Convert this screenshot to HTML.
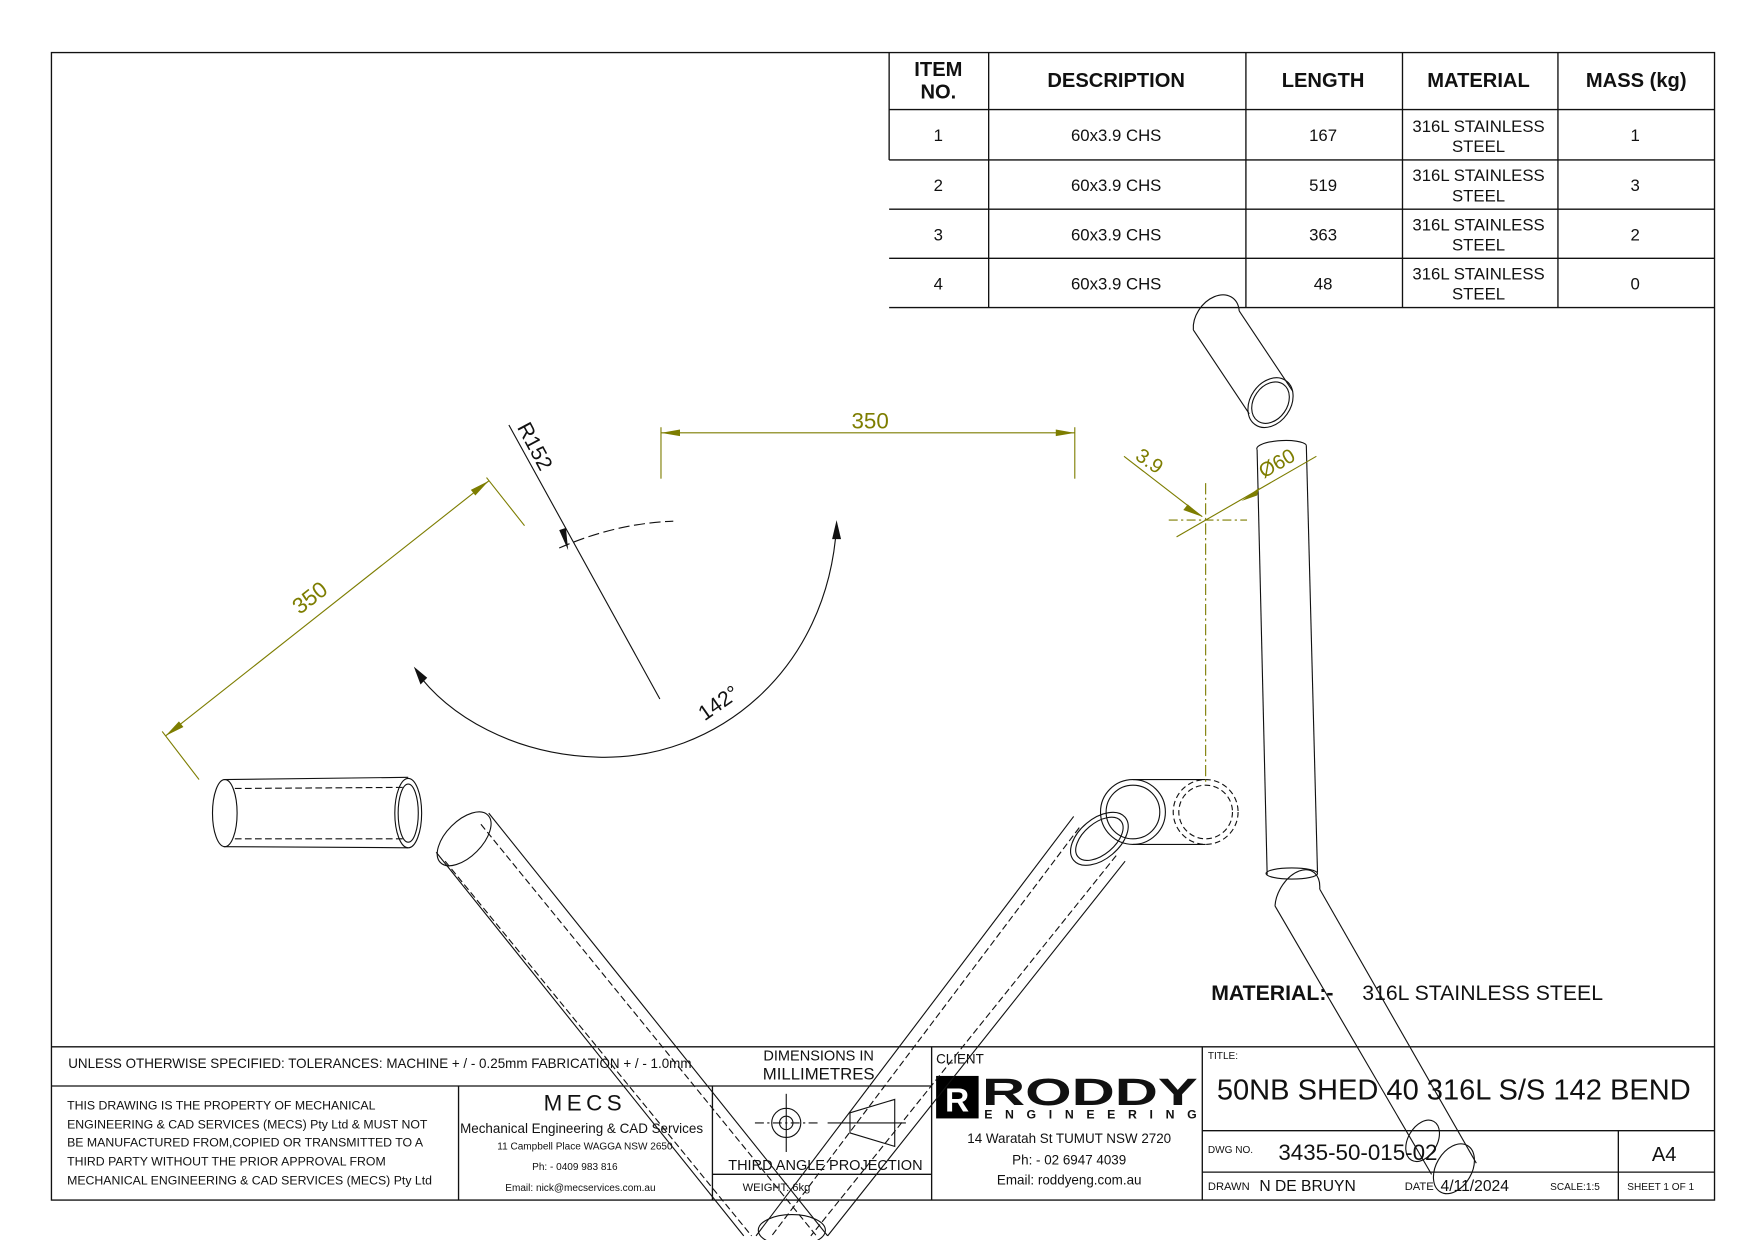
<!DOCTYPE html>
<html><head><meta charset="utf-8"><style>
html,body{margin:0;padding:0;background:#fff;width:1753px;height:1240px;overflow:hidden}
svg{display:block}
text{font-family:"Liberation Sans",sans-serif;fill:#111}
.b{font-weight:bold}
.d{fill:#7d7d00}
</style></head><body>
<svg width="1753" height="1240" viewBox="0 0 1567.4 1108.7" preserveAspectRatio="none">
<g fill="none" stroke="#111" stroke-width="1.2">
<rect x="46" y="47" width="1487" height="1026"/>
<line x1="795" y1="47" x2="795" y2="143"/>
<line x1="884" y1="47" x2="884" y2="275"/>
<line x1="1114" y1="47" x2="1114" y2="275"/>
<line x1="1254" y1="47" x2="1254" y2="275"/>
<line x1="1393" y1="47" x2="1393" y2="275"/>
<line x1="795" y1="98" x2="1533" y2="98"/>
<line x1="795" y1="143" x2="1533" y2="143"/>
<line x1="795" y1="187" x2="1533" y2="187"/>
<line x1="795" y1="231" x2="1533" y2="231"/>
<line x1="795" y1="275" x2="1533" y2="275"/>
<line x1="46" y1="936" x2="1533" y2="936"/>
<line x1="46" y1="971" x2="833" y2="971"/>
<line x1="410" y1="971" x2="410" y2="1073"/>
<line x1="637" y1="971" x2="637" y2="1073"/>
<line x1="833" y1="936" x2="833" y2="1073"/>
<line x1="1075" y1="936" x2="1075" y2="1073"/>
<line x1="637" y1="1050" x2="833" y2="1050"/>
<line x1="1075" y1="1011" x2="1533" y2="1011"/>
<line x1="1075" y1="1048" x2="1533" y2="1048"/>
<line x1="1447" y1="1011" x2="1447" y2="1073"/>
</g>
<g font-size="18" class="b">
<text x="839" y="68" text-anchor="middle" class="b">ITEM</text>
<text x="839" y="88" text-anchor="middle" class="b">NO.</text>
<text x="998" y="78" text-anchor="middle" class="b">DESCRIPTION</text>
<text x="1183" y="78" text-anchor="middle" class="b">LENGTH</text>
<text x="1322" y="78" text-anchor="middle" class="b">MATERIAL</text>
<text x="1463" y="78" text-anchor="middle" class="b">MASS (kg)</text>
</g>
<g font-size="15" text-anchor="middle">
<text x="839" y="126">1</text><text x="998" y="126">60x3.9 CHS</text><text x="1183" y="126">167</text><text x="1322" y="118">316L STAINLESS</text><text x="1322" y="136">STEEL</text><text x="1462" y="126">1</text>
<text x="839" y="171">2</text><text x="998" y="171">60x3.9 CHS</text><text x="1183" y="171">519</text><text x="1322" y="162">316L STAINLESS</text><text x="1322" y="180">STEEL</text><text x="1462" y="171">3</text>
<text x="839" y="215">3</text><text x="998" y="215">60x3.9 CHS</text><text x="1183" y="215">363</text><text x="1322" y="206">316L STAINLESS</text><text x="1322" y="224">STEEL</text><text x="1462" y="215">2</text>
<text x="839" y="259">4</text><text x="998" y="259">60x3.9 CHS</text><text x="1183" y="259">48</text><text x="1322" y="250">316L STAINLESS</text><text x="1322" y="268">STEEL</text><text x="1462" y="259">0</text>
</g>
<text x="61" y="955" font-size="12">UNLESS OTHERWISE SPECIFIED: TOLERANCES: MACHINE + / - 0.25mm  FABRICATION + / - 1.0mm</text>
<text x="732" y="948" font-size="13" text-anchor="middle">DIMENSIONS IN</text>
<text x="732" y="965" font-size="15" text-anchor="middle">MILLIMETRES</text>
<g font-size="11">
<text x="60" y="992">THIS DRAWING IS THE PROPERTY OF MECHANICAL</text>
<text x="60" y="1009">ENGINEERING &amp; CAD SERVICES (MECS) Pty Ltd &amp; MUST NOT</text>
<text x="60" y="1025">BE MANUFACTURED FROM,COPIED OR TRANSMITTED TO A</text>
<text x="60" y="1042">THIRD PARTY WITHOUT THE PRIOR APPROVAL FROM</text>
<text x="60" y="1059">MECHANICAL ENGINEERING &amp; CAD SERVICES (MECS) Pty Ltd</text>
</g>
<text x="523" y="993" font-size="20" text-anchor="middle" letter-spacing="4">MECS</text>
<text x="520" y="1013" font-size="12" text-anchor="middle">Mechanical Engineering &amp; CAD Services</text>
<text x="523" y="1028" font-size="9" text-anchor="middle">11 Campbell Place WAGGA NSW 2650</text>
<text x="514" y="1046" font-size="9" text-anchor="middle">Ph: - 0409 983 816</text>
<text x="519" y="1065" font-size="9" text-anchor="middle">Email: nick@mecservices.com.au</text>
<g fill="none" stroke="#111" stroke-width="1">
<circle cx="703" cy="1004" r="13"/><circle cx="703" cy="1004" r="6"/>
<line x1="675" y1="1004" x2="731" y2="1004" stroke-dasharray="8 3 2 3"/>
<line x1="703" y1="978" x2="703" y2="1030"/>
<line x1="740" y1="1004" x2="810" y2="1004"/>
<path d="M760 995 L800 983 L800 1025 L760 1013 Z"/>
</g>
<text x="738" y="1046" font-size="13" text-anchor="middle">THIRD ANGLE PROJECTION</text>
<text x="664" y="1065" font-size="10">WEIGHT: 6kg</text>
<text x="837" y="951" font-size="12">CLIENT</text>
<rect x="837" y="962" width="38" height="38" fill="#000"/>
<text x="845" y="994" font-size="30" class="b" style="fill:#fff">R</text>
<text x="878" y="988" font-size="34" class="b" textLength="193" lengthAdjust="spacingAndGlyphs">RODDY</text>
<text x="880" y="1000" font-size="11" class="b" textLength="190" lengthAdjust="spacing">ENGINEERING</text>
<text x="956" y="1022" font-size="12" text-anchor="middle">14 Waratah St TUMUT NSW 2720</text>
<text x="956" y="1041" font-size="12" text-anchor="middle">Ph: - 02 6947 4039</text>
<text x="956" y="1059" font-size="12" text-anchor="middle">Email: roddyeng.com.au</text>
<text x="1080" y="947" font-size="9">TITLE:</text>
<text x="1088" y="983" font-size="26">50NB SHED 40 316L S/S 142 BEND</text>
<text x="1080" y="1031" font-size="9">DWG NO.</text>
<text x="1143" y="1037" font-size="20">3435-50-015-02</text>
<text x="1488" y="1038" font-size="18" text-anchor="middle">A4</text>
<text x="1080" y="1064" font-size="10">DRAWN</text>
<text x="1126" y="1065" font-size="14">N DE BRUYN</text>
<text x="1256" y="1064" font-size="10">DATE</text>
<text x="1288" y="1065" font-size="14">4/11/2024</text>
<text x="1386" y="1064" font-size="9">SCALE:1:5</text>
<text x="1455" y="1064" font-size="9">SHEET 1 OF 1</text>
<text x="1083" y="894" font-size="19" class="b">MATERIAL:-</text>
<text x="1218" y="894" font-size="19">316L STAINLESS STEEL</text>

<g fill="none" stroke="#111" stroke-width="1">
<line x1="1067" y1="295" x2="1117" y2="370"/>
<line x1="1108" y1="278" x2="1156" y2="350"/>
<path d="M1067 295 A22 16 -55 0 1 1108 278"/>
<ellipse cx="1136" cy="360" rx="24" ry="18" transform="rotate(-55 1136 360)"/>
<ellipse cx="1136" cy="360" rx="20" ry="15" transform="rotate(-55 1136 360)"/>
<line x1="1124" y1="402" x2="1133" y2="782"/>
<line x1="1168" y1="398" x2="1178" y2="780"/>
<path d="M1124 402 A22 6 -3 0 1 1168 398"/>
<ellipse cx="1155" cy="781" rx="23" ry="5"/>
<line x1="1140" y1="810" x2="1280" y2="1050"/>
<line x1="1180" y1="795" x2="1320" y2="1040"/>
<path d="M1140 810 A22 14 -60 0 1 1180 795"/>
<ellipse cx="1300" cy="1045" rx="24" ry="16" transform="rotate(-60 1300 1045)"/>
<ellipse cx="1272" cy="1020" rx="20" ry="13" transform="rotate(-60 1272 1020)"/>
<line x1="200" y1="697" x2="365" y2="695"/>
<line x1="200" y1="757" x2="365" y2="758"/>
<ellipse cx="201" cy="727" rx="11" ry="30"/>
<ellipse cx="365" cy="727" rx="12" ry="31"/>
<ellipse cx="365" cy="727" rx="9" ry="26"/>
<line x1="210" y1="705" x2="360" y2="704" stroke-dasharray="6 3"/>
<line x1="210" y1="750" x2="360" y2="750" stroke-dasharray="6 3"/>
<ellipse cx="415" cy="750" rx="30" ry="16" transform="rotate(-45 415 750)"/>
<line x1="390" y1="762" x2="665" y2="1105"/>
<line x1="437" y1="727" x2="740" y2="1105"/>
<line x1="398" y1="770" x2="672" y2="1105" stroke-dasharray="6 3"/>
<line x1="430" y1="737" x2="730" y2="1105" stroke-dasharray="6 3"/>
<ellipse cx="983" cy="750" rx="30" ry="18" transform="rotate(-40 983 750)"/>
<ellipse cx="983" cy="750" rx="25" ry="14" transform="rotate(-40 983 750)"/>
<line x1="960" y1="730" x2="676" y2="1105"/>
<line x1="1006" y1="770" x2="740" y2="1105"/>
<line x1="965" y1="740" x2="690" y2="1105" stroke-dasharray="6 3"/>
<line x1="998" y1="765" x2="725" y2="1105" stroke-dasharray="6 3"/>
<ellipse cx="708" cy="1100" rx="30" ry="14"/>
<circle cx="1013" cy="726" r="29"/><circle cx="1013" cy="726" r="24"/>
<line x1="1013" y1="697" x2="1078" y2="697"/>
<line x1="1013" y1="755" x2="1078" y2="755"/>
<circle cx="1078" cy="726" r="29" stroke-dasharray="5 3"/>
<circle cx="1078" cy="726" r="24" stroke-dasharray="5 3"/>
<line x1="455" y1="380" x2="590" y2="625"/>
<path d="M500 490 Q550 468 602 466" stroke-dasharray="10 4"/>
<path d="M748 470 C740 600 640 680 535 677 C460 675 400 640 372 600"/>
</g>
<polygon points="508,492 500,474 506,472" fill="#111"/>
<polygon points="748,465 744,482 752,482" fill="#111"/>
<polygon points="370,596 382,606 376,612" fill="#111"/>
<text transform="translate(462,382) rotate(62)" font-size="19">R152</text>
<text transform="translate(630,645) rotate(-35)" font-size="19">142°</text>

<g stroke="#7d7d00" fill="none" stroke-width="1">
<line x1="591" y1="382" x2="591" y2="428"/>
<line x1="961" y1="382" x2="961" y2="428"/>
<line x1="591" y1="387" x2="961" y2="387"/>
<line x1="148" y1="658" x2="437" y2="430"/>
<line x1="145" y1="654" x2="178" y2="697"/>
<line x1="435" y1="427" x2="469" y2="470"/>
<line x1="1005" y1="408" x2="1075" y2="462"/>
<line x1="1177" y1="408" x2="1052" y2="480"/>
<line x1="1045" y1="465" x2="1115" y2="465" stroke-dasharray="8 3 2 3"/>
<line x1="1078" y1="432" x2="1078" y2="700" stroke-dasharray="10 3 2 3"/>
</g>
<g fill="#7d7d00">
<polygon points="591,387 608,384 608,390"/>
<polygon points="961,387 944,384 944,390"/>
<polygon points="148,658 160,645 164,650"/>
<polygon points="437,430 421,438 425,443"/>
<polygon points="1075,462 1058,456 1062,451"/>
<polygon points="1110,448 1126,436 1124,443"/>
</g>
<text x="778" y="383" font-size="20" text-anchor="middle" class="d">350</text>
<text transform="translate(268,550) rotate(-38)" font-size="20" class="d">350</text>
<text transform="translate(1014,410) rotate(35)" font-size="18" class="d">3.9</text>
<text transform="translate(1130,428) rotate(-30)" font-size="18" class="d">Ø60</text>
</svg>
</body></html>
